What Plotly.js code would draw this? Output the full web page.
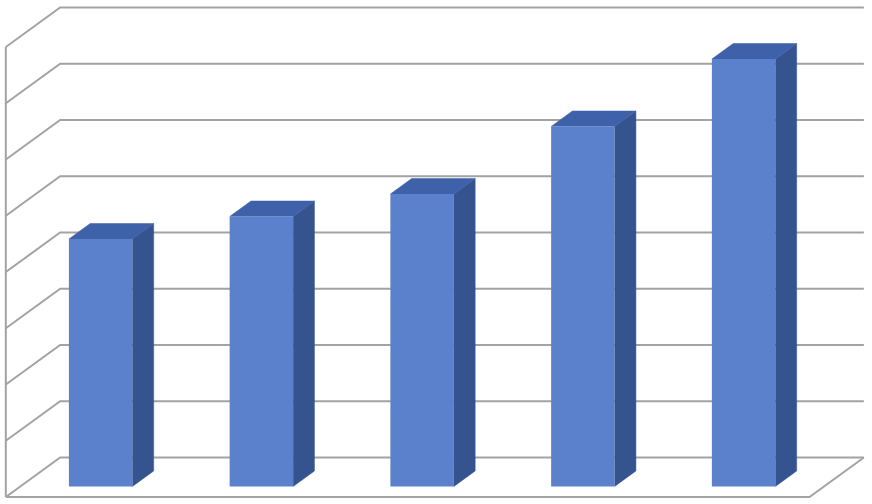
<!DOCTYPE html>
<html>
<head>
<meta charset="utf-8">
<script src="https://cdn.plot.ly/plotly-3.0.1.min.js"></script>
<style>html,body{margin:0;padding:0;background:#fff;}#chart{width:872px;height:504px;}</style>
</head>
<body>
<div id="chart"></div>
<script>
// ---- data ----
const categories = ['1', '2', '3', '4', '5'];
const values = [44, 48, 52, 64, 76];
const gridValues = [0, 10, 20, 30, 40, 50, 60, 70, 80];

// ---- 3D oblique projection parameters (axis units) ----
const depthX = 0.338;   // x shift for full floor depth
const depthY = 7.022;   // y shift for full floor depth
const tFront = 0.266;   // bar front depth fraction
const tBack = 0.658;    // bar back depth fraction
const barW = 0.395;
const xMin = -0.5, xMax = categories.length - 0.5;

const frontColor = '#5B81CD';
const sideColor = '#35548F';
const topColor = '#3E61A9';
const gridColor = '#A3A3A3';

const idx = categories.map((c, i) => i);

// walls and gridlines (base subplot)
const gx = [], gy = [];
gridValues.forEach(v => {
  gx.push(xMin, xMin + depthX, xMax + depthX, null);
  gy.push(v, v + depthY, v + depthY, null);
});
// left wall front vertical edge
gx.push(xMin, xMin, null);
gy.push(gridValues[0], gridValues[gridValues.length - 1], null);
// floor front edge and right edge
gx.push(xMin, xMax, xMax + depthX, null);
gy.push(gridValues[0], gridValues[0], gridValues[0] + depthY, null);

const gridTrace = {
  type: 'scatter', mode: 'lines', x: gx, y: gy,
  line: {color: gridColor, width: 2}, hoverinfo: 'skip', showlegend: false,
  xaxis: 'x', yaxis: 'y'
};

// bar front faces
const frontTrace = {
  type: 'bar', x: idx.map(i => i + depthX * tFront), y: values,
  base: idx.map(() => depthY * tFront), width: barW,
  marker: {color: frontColor, line: {width: 0}},
  hoverinfo: 'skip', showlegend: false, xaxis: 'x2', yaxis: 'y2'
};

// side and top faces
const sx = [], sy = [], tx = [], ty = [];
idx.forEach(i => {
  const v = values[i];
  const xlF = i + depthX * tFront - barW / 2, xrF = i + depthX * tFront + barW / 2;
  const xlB = i + depthX * tBack - barW / 2, xrB = i + depthX * tBack + barW / 2;
  const bF = depthY * tFront, bB = depthY * tBack;
  sx.push(xrF, xrB, xrB, xrF, null);
  sy.push(bF, bB, bB + v, bF + v, null);
  tx.push(xlF, xlB, xrB, xrF, null);
  ty.push(bF + v, bB + v, bB + v, bF + v, null);
});
const sideTrace = {
  type: 'scatter', mode: 'lines', x: sx, y: sy, fill: 'toself',
  fillcolor: sideColor, line: {width: 0.5, color: sideColor},
  hoverinfo: 'skip', showlegend: false, xaxis: 'x2', yaxis: 'y2'
};
const topTrace = {
  type: 'scatter', mode: 'lines', x: tx, y: ty, fill: 'toself',
  fillcolor: topColor, line: {width: 0.5, color: topColor},
  hoverinfo: 'skip', showlegend: false, xaxis: 'x2', yaxis: 'y2'
};

const xr = [-0.5362, 4.8886];
const yr = [-1.2444, 88.3556];
const axisBase = {visible: false, showgrid: false, zeroline: false, fixedrange: true};

const layout = {
  width: 872, height: 504,
  margin: {l: 0, r: 0, t: 0, b: 0, pad: 0},
  paper_bgcolor: '#ffffff', plot_bgcolor: '#ffffff',
  showlegend: false,
  xaxis: Object.assign({range: xr}, axisBase),
  yaxis: Object.assign({range: yr}, axisBase),
  xaxis2: Object.assign({range: xr, overlaying: 'x'}, axisBase),
  yaxis2: Object.assign({range: yr, overlaying: 'y'}, axisBase)
};

Plotly.newPlot('chart', [gridTrace, frontTrace, sideTrace, topTrace], layout,
  {displayModeBar: false, staticPlot: true});
</script>
</body>
</html>
